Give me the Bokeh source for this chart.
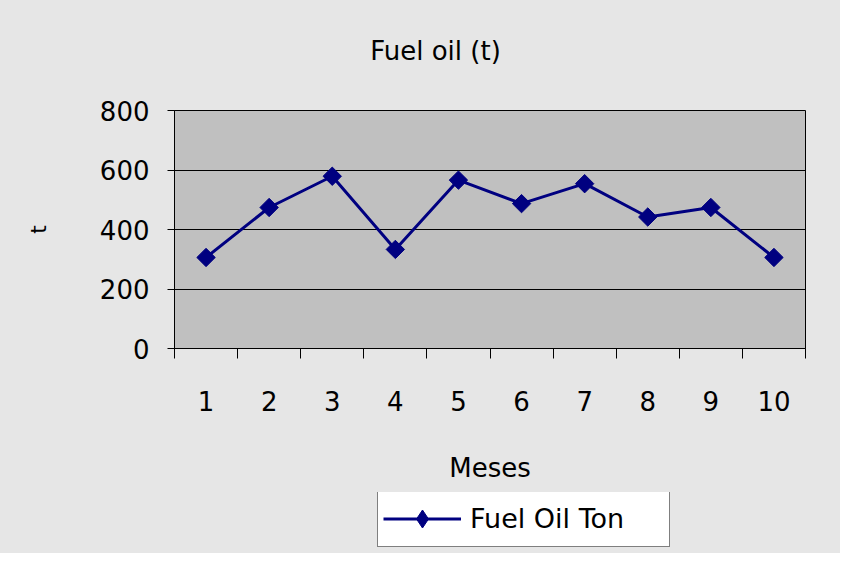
import math
from bokeh.plotting import figure
from bokeh.layouts import column
from bokeh.models import (FixedTicker, Range1d, Legend, LegendItem,
                          ColumnDataSource, Label)
from bokeh.embed import file_html
from bokeh.resources import INLINE

# ---- data ----
months = ["1", "2", "3", "4", "5", "6", "7", "8", "9", "10"]
fuel_oil_ton = [306, 474, 579, 333, 566, 487, 554, 442, 474, 306]
y_ticks = [0, 200, 400, 600, 800]
title_text = "Fuel oil (t)"
x_title = "Meses"
y_title = "t"
series_name = "Fuel Oil Ton"

FONT = "DejaVu Sans"
NAVY = "#000080"
BG = "#e6e6e6"
W = 840


def strip(height):
    f = figure(width=W, height=height, output_backend="svg", toolbar_location=None,
               x_range=Range1d(0.5, len(months) + 0.5), y_range=Range1d(5000, 5001),
               x_axis_location=None, y_axis_location=None,
               min_border_left=174, min_border_right=35, min_border_top=0,
               min_border_bottom=0)
    f.background_fill_color = None
    f.border_fill_color = BG
    f.outline_line_color = None
    f.xgrid.visible = False
    f.ygrid.visible = False
    return f


xs = list(range(1, len(months) + 1))
src = ColumnDataSource(dict(x=xs, y=fuel_oil_ton))

# ---- title strip ----
tf = strip(90)
tf.add_layout(Label(x=261, y=40, x_units="screen", y_units="screen",
                    text=title_text, text_align="center", text_baseline="middle",
                    text_font=FONT, text_font_size="26px", text_color="black"))

# ---- main chart ----
p = figure(width=W, height=402, output_backend="svg", toolbar_location=None,
           x_range=Range1d(0.5, len(months) + 0.5), y_range=Range1d(0, 800),
           min_border_left=174, min_border_right=35, min_border_top=20,
           min_border_bottom=144)

p.background_fill_color = "#c0c0c0"
p.border_fill_color = BG
p.outline_line_color = "black"
p.outline_line_width = 1

# grid
p.xgrid.visible = False
p.ygrid.ticker = FixedTicker(ticks=y_ticks)
p.ygrid.grid_line_color = "black"
p.ygrid.grid_line_width = 1

# x axis
xa = p.xaxis[0]
xa.ticker = FixedTicker(ticks=xs, minor_ticks=[v + 0.5 for v in [0] + xs])
xa.major_label_overrides = {x: lab for x, lab in zip(xs, months)}
xa.major_tick_out = 0
xa.major_tick_in = 0
xa.minor_tick_out = 10
xa.minor_tick_in = 0
xa.minor_tick_line_color = "black"
xa.axis_line_color = "black"
xa.major_label_standoff = 32
xa.major_label_text_font = FONT
xa.major_label_text_font_size = "26px"
xa.major_label_text_color = "black"
xa.axis_label = x_title
xa.axis_label_text_font = FONT
xa.axis_label_text_font_size = "26px"
xa.axis_label_text_font_style = "normal"
xa.axis_label_text_color = "black"
xa.axis_label_standoff = 39

# y axis
ya = p.yaxis[0]
ya.ticker = FixedTicker(ticks=y_ticks, minor_ticks=[])
ya.major_tick_out = 7
ya.major_tick_in = 0
ya.major_tick_line_color = "black"
ya.axis_line_color = "black"
ya.major_label_standoff = 18
ya.major_label_text_font = FONT
ya.major_label_text_font_size = "26px"
ya.major_label_text_color = "black"
ya.axis_label = y_title
ya.axis_label_text_font = FONT
ya.axis_label_text_font_size = "22px"
ya.axis_label_text_font_style = "normal"
ya.axis_label_text_color = "black"
ya.axis_label_standoff = 46

# series
line_style = dict(line_color=NAVY, line_width=3)
p.line("x", "y", source=src, **line_style)
p.scatter("x", "y", source=src, marker="square", size=13, angle=math.pi / 4,
          fill_color=NAVY, line_color=NAVY)

# ---- legend strip: same series, ranges chosen so only the legend shows ----
lf = strip(61)
lln = lf.line("x", "y", source=src, **line_style)
lmk = lf.scatter("x", "y", source=src, marker="diamond", size=13,
                 fill_color=NAVY, line_color=NAVY)

legend = Legend(items=[LegendItem(label=series_name, renderers=[lln, lmk])],
                location=(203, 6))
legend.border_line_color = "black"
legend.border_line_width = 1
legend.background_fill_color = "white"
legend.background_fill_alpha = 1
legend.label_text_font = FONT
legend.label_text_font_size = "27px"
legend.label_text_color = "black"
legend.glyph_width = 78
legend.glyph_height = 45
legend.padding = 5
legend.margin = 0
legend.label_standoff = 9
legend.label_height = 45
legend.label_width = 194
lf.add_layout(legend)

layout = column(tf, p, lf, spacing=0, styles={"background-color": BG})
open("out.html", "w").write(file_html(layout, INLINE))
